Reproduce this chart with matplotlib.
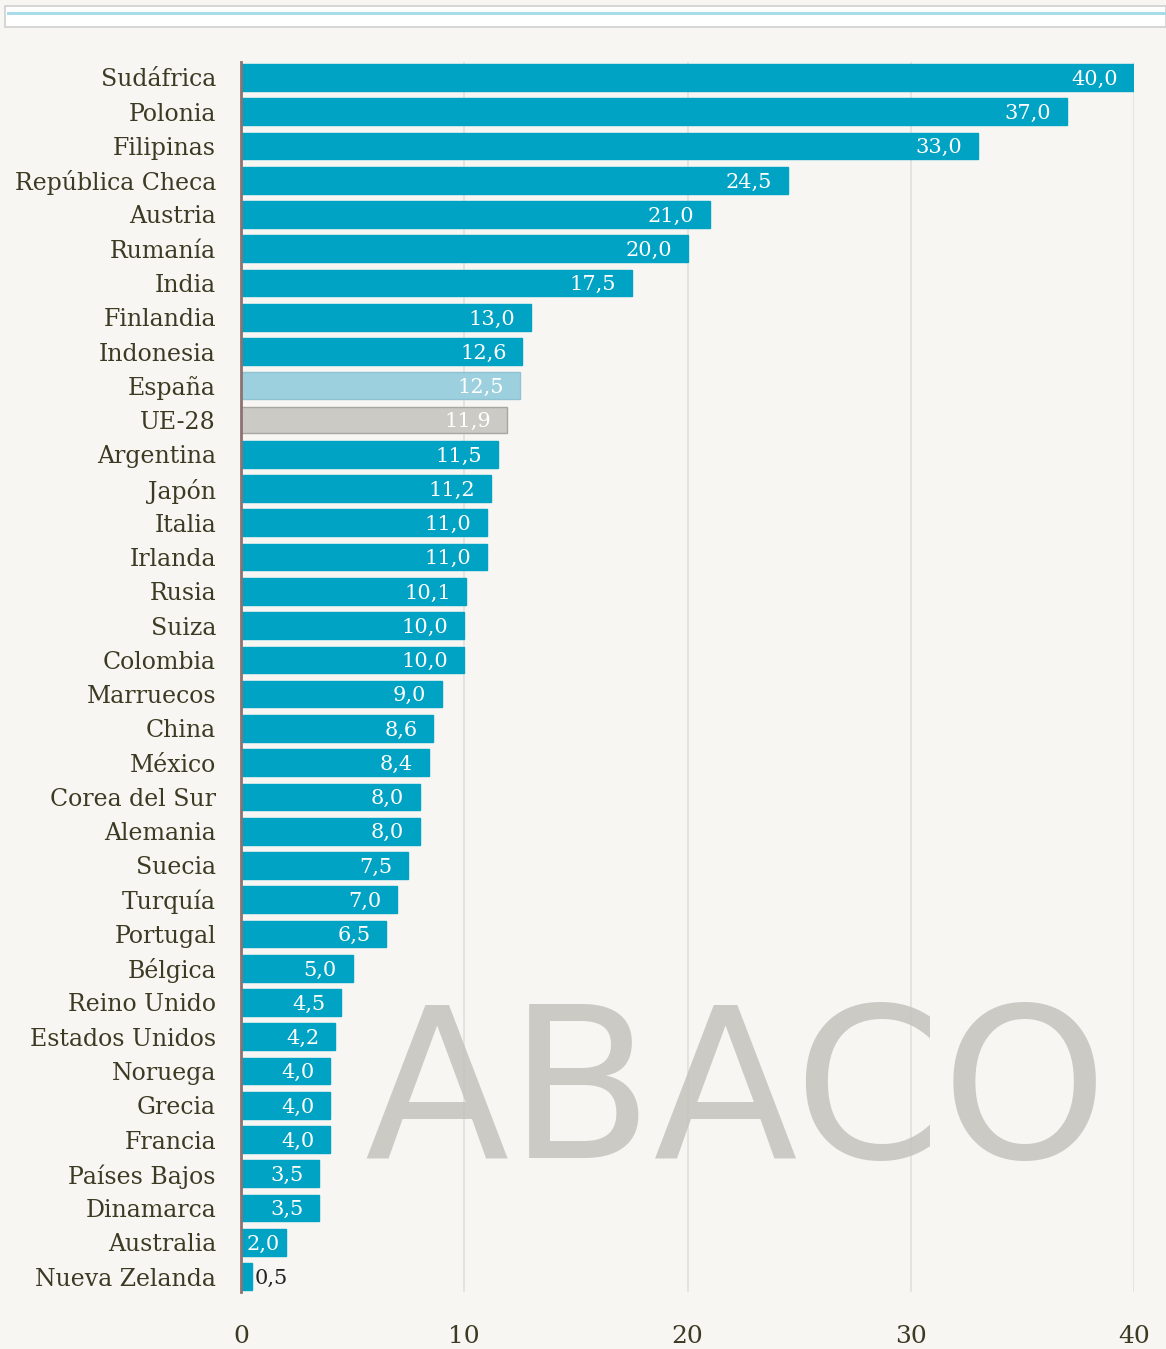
import matplotlib
matplotlib.use("Agg")
import matplotlib.pyplot as plt
from matplotlib.patches import Rectangle

countries = ["Sudáfrica", "Polonia", "Filipinas", "República Checa", "Austria", "Rumanía",
             "India", "Finlandia", "Indonesia", "España", "UE-28", "Argentina", "Japón",
             "Italia", "Irlanda", "Rusia", "Suiza", "Colombia", "Marruecos", "China",
             "México", "Corea del Sur", "Alemania", "Suecia", "Turquía", "Portugal",
             "Bélgica", "Reino Unido", "Estados Unidos", "Noruega", "Grecia", "Francia",
             "Países Bajos", "Dinamarca", "Australia", "Nueva Zelanda"]
values = [40.0, 37.0, 33.0, 24.5, 21.0, 20.0, 17.5, 13.0, 12.6, 12.5, 11.9, 11.5, 11.2,
          11.0, 11.0, 10.1, 10.0, 10.0, 9.0, 8.6, 8.4, 8.0, 8.0, 7.5, 7.0, 6.5, 5.0, 4.5,
          4.2, 4.0, 4.0, 4.0, 3.5, 3.5, 2.0, 0.5]
xticks = [0, 10, 20, 30, 40]

BG = "#F7F6F3"
BLUE = "#00A3C4"
SPAIN = "#9DD0DE"
EU = "#CBCAC4"
TXT = "#3B3A22"
SERIF = ["DejaVu Serif"]

W, H = 1166, 1349
fig = plt.figure(figsize=(W / 100, H / 100), dpi=100, facecolor=BG)

# top band
fig.patches.append(Rectangle((5 / W, 1 - 27 / H), (W - 5) / W, 21 / H, transform=fig.transFigure,
                             facecolor="white", edgecolor="#CFCFCF", lw=1.2, zorder=0))
fig.patches.append(Rectangle((7 / W, 1 - 15 / H), (W - 7) / W, 3 / H, transform=fig.transFigure,
                             facecolor="#A9DCEA", edgecolor="none", zorder=1))

n = len(countries)
ax = fig.add_axes([241 / W, 1 - 1292 / H, 893 / W, 1230 / H])
ax.set_facecolor(BG)

colors = []
edges = []
for c in countries:
    if c == "España":
        colors.append(SPAIN); edges.append("#8FC3D2")
    elif c == "UE-28":
        colors.append(EU); edges.append("#A8A6A0")
    else:
        colors.append(BLUE); edges.append(BLUE)

ypos = list(range(n))
ax.barh(ypos, values, height=0.78, color=colors, edgecolor=edges, linewidth=1, zorder=3)

for y, v in zip(ypos, values):
    lab = f"{v:.1f}".replace(".", ",")
    if v >= 3:
        ax.text(v - 0.7, y + 0.05, lab, ha="right", va="center", color="white",
                fontsize=15, family=SERIF, zorder=4)
    elif v >= 1.5:
        ax.text(0.25, y + 0.05, lab, ha="left", va="center", color="white",
                fontsize=15, family=SERIF, zorder=4)
    else:
        ax.text(v + 0.1, y + 0.05, lab, ha="left", va="center", color="#222222",
                fontsize=15, family=SERIF, zorder=4)

ax.set_xlim(0, 40)
ax.set_ylim(n - 0.55, -0.45)
ax.set_yticks(ypos)
ax.set_yticklabels(countries, fontsize=17, family=SERIF, color=TXT)
ax.set_xticks(xticks)
ax.set_xticklabels([str(t) for t in xticks], fontsize=18, family=SERIF, color=TXT)
ax.tick_params(axis="y", length=0, pad=18)
ax.tick_params(axis="x", length=0, pad=24)
ax.xaxis.grid(True, color="#E2E0DB", lw=1.2, zorder=0)
ax.set_axisbelow(True)
for s in ["top", "right", "bottom"]:
    ax.spines[s].set_visible(False)
ax.spines["left"].set_color("#8E7272")
ax.spines["left"].set_linewidth(2)
ax.spines["left"].set_zorder(5)

# watermark logo
fig.text(736 / W, 1 - 1100 / H, "ABACO", ha="center", va="center", fontsize=152,
         family=["DejaVu Sans"], color="#C2C0BA", alpha=0.8, zorder=10)

fig.savefig("out.png", dpi=100, facecolor=BG)
